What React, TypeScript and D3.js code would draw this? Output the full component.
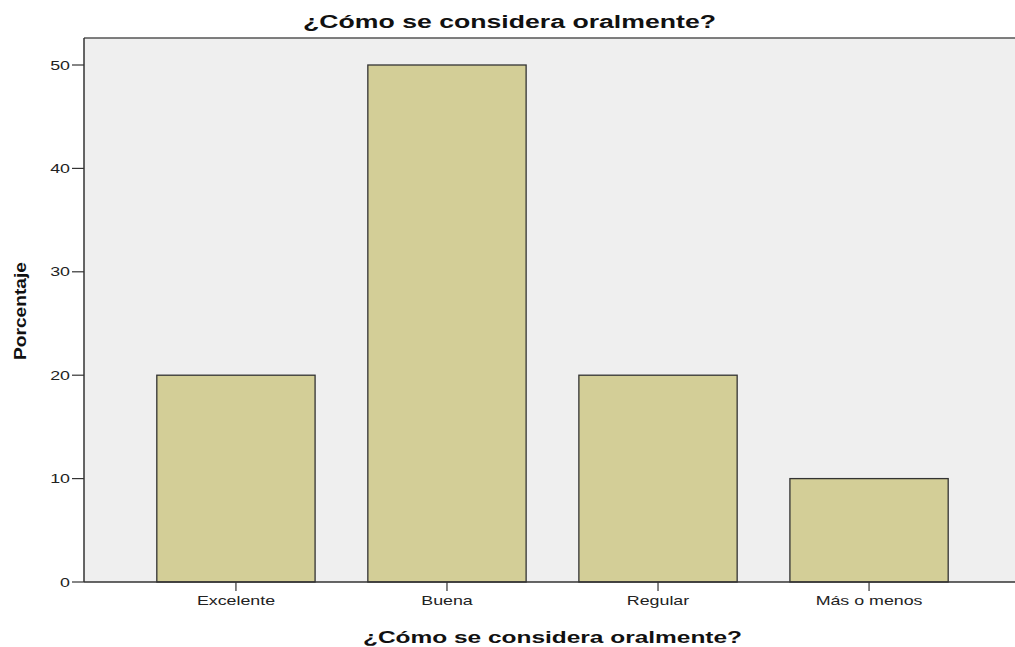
import React from "react";
import * as d3 from "d3";

const categories = ["Excelente", "Buena", "Regular", "Más o menos"];
const percentages = [20, 50, 20, 10];
const yTicks = [0, 10, 20, 30, 40, 50];
const title = "¿Cómo se considera oralmente?";
const yLabel = "Porcentaje";

export default function App() {
  const W = 1015, H = 647;
  const left = 84, top = 38, bottom = 582, right = 1021;
  const y = d3.scaleLinear().domain([0, 50]).range([bottom, 65]);
  const x = d3.scaleBand<string>().domain(categories).range([left, right]).paddingInner(0.25).paddingOuter(0.345);
  const font = "Arial, 'Liberation Sans', sans-serif";
  const sx = 1.37;
  return (
    <svg width={W} height={H} style={{ position: "absolute", left: 0, top: 0 }}>
      <rect x={0} y={0} width={W} height={H} fill="#fff" />
      <rect x={left} y={top} width={right - left} height={bottom - top} fill="#EFEFEF" />
      <line x1={left} x2={right} y1={top} y2={top} stroke="#555" strokeWidth={1.5} />
      {categories.map((c, i) => (
        <rect key={c} x={x(c)} y={y(percentages[i])} width={x.bandwidth()} height={bottom - y(percentages[i])}
          fill="#D3CE97" stroke="#333" strokeWidth={1.3} />
      ))}
      <line x1={left} x2={left} y1={top} y2={bottom} stroke="#333" strokeWidth={1.5} />
      <line x1={left} x2={right} y1={bottom} y2={bottom} stroke="#333" strokeWidth={1.5} />
      {yTicks.map(t => (
        <g key={t}>
          <line x1={left - 12} x2={left} y1={y(t)} y2={y(t)} stroke="#333" strokeWidth={1.2} />
          <text transform={`translate(${left - 14},${y(t)}) scale(${sx},1)`} dy="0.35em" textAnchor="end" fontFamily={font} fontSize={13} fill="#222">{t}</text>
        </g>
      ))}
      {categories.map(c => {
        const cx = (x(c) as number) + x.bandwidth() / 2;
        return (
          <g key={c}>
            <line x1={cx} x2={cx} y1={bottom} y2={bottom + 9} stroke="#333" strokeWidth={1.2} />
            <text transform={`translate(${cx},${bottom + 23}) scale(${sx},1)`} textAnchor="middle" fontFamily={font} fontSize={13} fill="#222">{c}</text>
          </g>
        );
      })}
      <text x={303} y={28} textLength={413} lengthAdjust="spacingAndGlyphs" fontFamily={font} fontSize={18} fontWeight="bold" fill="#111">{title}</text>
      <text x={363} y={643} textLength={379} lengthAdjust="spacingAndGlyphs" fontFamily={font} fontSize={16} fontWeight="bold" fill="#111">{title}</text>
      <text transform={`translate(26,360) rotate(-90)`} textLength={98} lengthAdjust="spacingAndGlyphs" fontFamily={font} fontSize={17} fontWeight="bold" fill="#111">{yLabel}</text>
    </svg>
  );
}
